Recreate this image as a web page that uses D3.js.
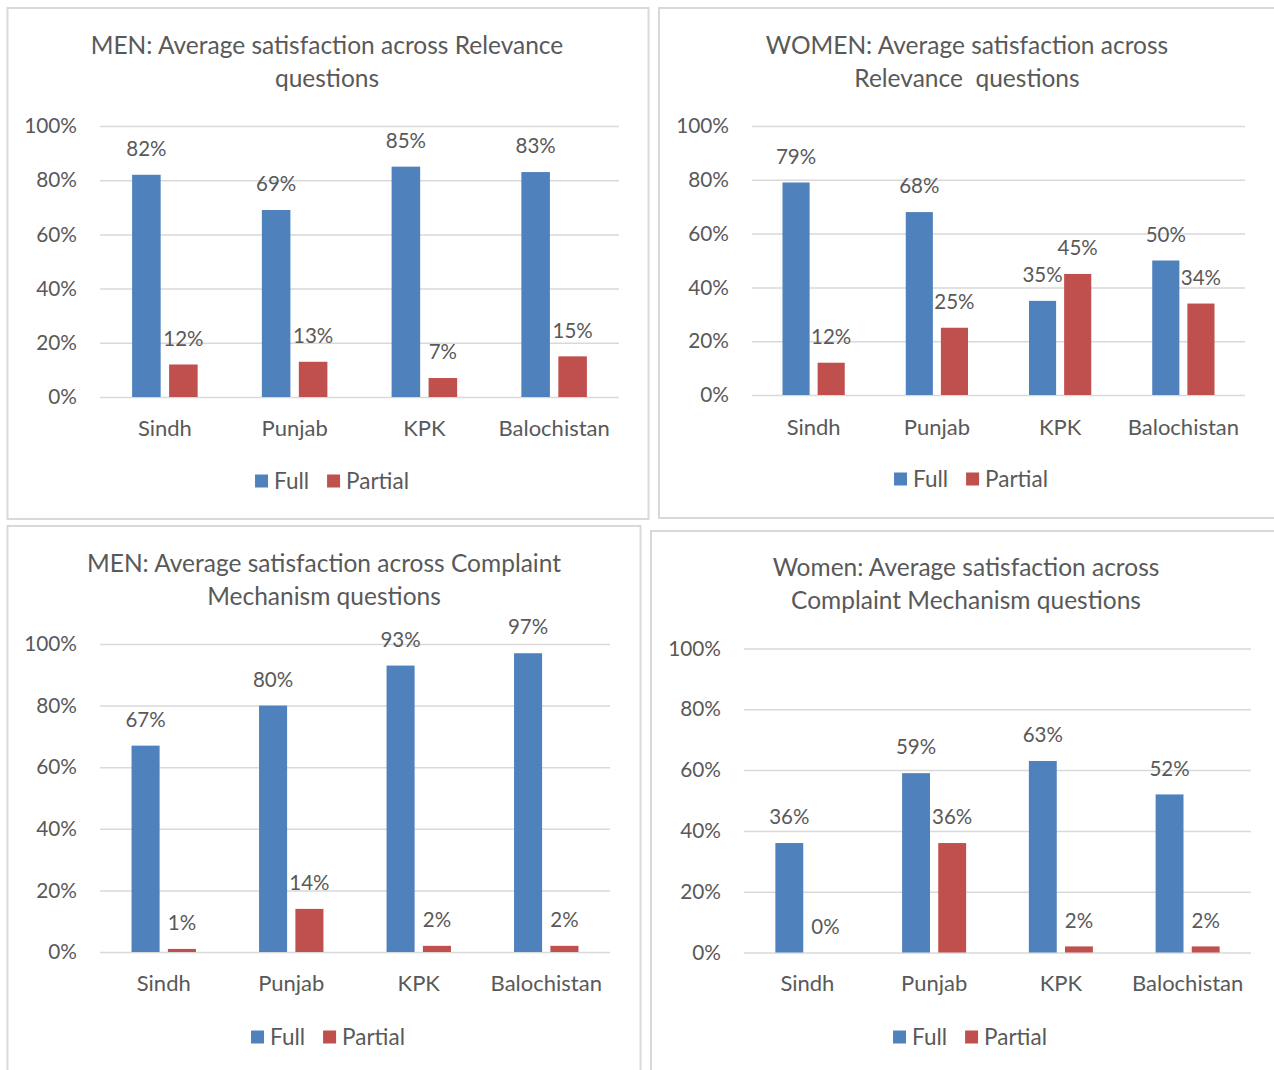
<!DOCTYPE html>
<html>
<head>
<meta charset="utf-8">
<script src="https://cdn.jsdelivr.net/npm/d3@7"></script>
<style>
  html, body { margin: 0; padding: 0; background: #ffffff; }
  svg { display: block; }
  text { font-family: Lato, "Open Sans", sans-serif; fill: #595959; }
</style>
</head>
<body>
<svg id="chart" width="1274" height="1070"></svg>
<script>
// ---------------- DATA ----------------
const categories = ["Sindh", "Punjab", "KPK", "Balochistan"];
const seriesNames = ["Full", "Partial"];
const yTicks = [0, 20, 40, 60, 80, 100];

const menRelevanceFull    = [82, 69, 85, 83];
const menRelevancePartial = [12, 13, 7, 15];

const womenRelevanceFull    = [79, 68, 35, 50];
const womenRelevancePartial = [12, 25, 45, 34];

const menComplaintFull    = [67, 80, 93, 97];
const menComplaintPartial = [1, 14, 2, 2];

const womenComplaintFull    = [36, 59, 63, 52];
const womenComplaintPartial = [0, 36, 2, 2];

const titleMenRelevance   = ["MEN: Average satisfaction across Relevance", "questions"];
const titleWomenRelevance = ["WOMEN: Average satisfaction across", "Relevance\u00a0 questions"];
const titleMenComplaint   = ["MEN: Average satisfaction across Complaint", "Mechanism questions"];
const titleWomenComplaint = ["Women: Average satisfaction across", "Complaint Mechanism questions"];

// ---------------- STYLE ----------------
const colors = { Full: "#4F81BD", Partial: "#C0504D" };
const gridColor = "#d9d9d9";
const frameColor = "#d9d9d9";
const fs = { title: 24.5, tick: 20.8, label: 20.5, cat: 22, legend: 22.5 };

// ---------------- LAYOUT (positions only) ----------------
const panels = [
  { title: titleMenRelevance, full: menRelevanceFull, partial: menRelevancePartial,
    frame: [7.5, 8, 641, 511], x0: 100, x1: 619, yTop: 126, yBot: 397,
    titleX: 327, titleY: [45, 78], catY: 428, legX: 332, legY: 481 },
  { title: titleWomenRelevance, full: womenRelevanceFull, partial: womenRelevancePartial,
    frame: [659, 8, 640, 510], x0: 752, x1: 1245, yTop: 126, yBot: 395,
    titleX: 967, titleY: [45, 78], catY: 427, legX: 971, legY: 479 },
  { title: titleMenComplaint, full: menComplaintFull, partial: menComplaintPartial,
    frame: [7.5, 526, 633, 560], x0: 100, x1: 610, yTop: 644, yBot: 952,
    titleX: 324, titleY: [563, 596], catY: 983, legX: 328, legY: 1037 },
  { title: titleWomenComplaint, full: womenComplaintFull, partial: womenComplaintPartial,
    frame: [651, 531, 640, 560], x0: 744, x1: 1251, yTop: 648.5, yBot: 952.5,
    titleX: 966, titleY: [567, 600], catY: 983, legX: 970, legY: 1037 }
];

const svg = d3.select("#chart");

panels.forEach(p => {
  const g = svg.append("g");

  // frame
  g.append("rect")
    .attr("x", p.frame[0]).attr("y", p.frame[1])
    .attr("width", p.frame[2]).attr("height", p.frame[3])
    .attr("fill", "none").attr("stroke", frameColor).attr("stroke-width", 2);

  // title
  g.selectAll("text.title").data(p.title).join("text")
    .attr("class", "title")
    .attr("x", p.titleX)
    .attr("y", (d, i) => p.titleY[i])
    .attr("dy", "0.35em")
    .attr("text-anchor", "middle")
    .style("font-size", fs.title + "px")
    .text(d => d);

  const y = d3.scaleLinear().domain([0, 100]).range([p.yBot, p.yTop]);
  const xBand = d3.scaleBand().domain(categories).range([p.x0, p.x1]).padding(0);
  const xInner = d3.scaleBand().domain(seriesNames).range([0, xBand.bandwidth()])
    .paddingInner(0.228).paddingOuter(0.868);

  // y axis with gridlines
  const yAxis = d3.axisLeft(y).tickValues(yTicks)
    .tickSize(-(p.x1 - p.x0)).tickPadding(23)
    .tickFormat(d => d + "%");
  const ya = g.append("g").attr("transform", `translate(${p.x0},0)`).call(yAxis);
  ya.select(".domain").remove();
  ya.selectAll(".tick line").attr("stroke", gridColor).attr("stroke-width", 1.5);
  ya.selectAll(".tick text").style("font-size", fs.tick + "px").attr("fill", "#595959")
    .style("font-family", "Lato, 'Open Sans', sans-serif");

  // bars
  const rows = categories.map((c, i) => ({ cat: c, Full: p.full[i], Partial: p.partial[i] }));
  const groups = g.selectAll("g.cat").data(rows).join("g")
    .attr("class", "cat")
    .attr("transform", d => `translate(${xBand(d.cat)},0)`);

  const items = groups.selectAll("g.item")
    .data(d => seriesNames.map(s => ({ s, v: d[s] })))
    .join("g").attr("class", "item");

  items.append("rect")
    .attr("x", d => xInner(d.s))
    .attr("y", d => y(d.v))
    .attr("width", xInner.bandwidth())
    .attr("height", d => y(0) - y(d.v))
    .attr("fill", d => colors[d.s]);

  items.append("text")
    .attr("x", d => xInner(d.s) + xInner.bandwidth() / 2)
    .attr("y", d => y(d.v) - 26)
    .attr("dy", "0.35em")
    .attr("text-anchor", "middle")
    .style("font-size", fs.label + "px")
    .text(d => d.v + "%");

  // x axis labels
  const xAxis = d3.axisBottom(xBand).tickSize(0).tickPadding(0);
  const xa = g.append("g").attr("transform", `translate(0,${p.catY})`).call(xAxis);
  xa.select(".domain").remove();
  xa.selectAll(".tick text").attr("dy", "0.35em").attr("y", 0)
    .style("font-size", fs.cat + "px").attr("fill", "#595959")
    .style("font-family", "Lato, 'Open Sans', sans-serif");

  // legend
  const leg = g.append("g");
  const legItems = leg.selectAll("g").data(seriesNames).join("g");
  legItems.append("rect").attr("width", 13).attr("height", 13)
    .attr("y", p.legY - 6.5).attr("fill", d => colors[d]);
  legItems.append("text").attr("x", 19).attr("y", p.legY).attr("dy", "0.35em")
    .style("font-size", fs.legend + "px").text(d => d);
  let cx = 0;
  legItems.each(function () {
    const w = 19 + this.querySelector("text").getComputedTextLength();
    d3.select(this).attr("transform", `translate(${cx},0)`);
    cx += w + 18;
  });
  const totalW = cx - 18;
  leg.attr("transform", `translate(${p.legX - totalW / 2},0)`);
});
</script>
</body>
</html>
